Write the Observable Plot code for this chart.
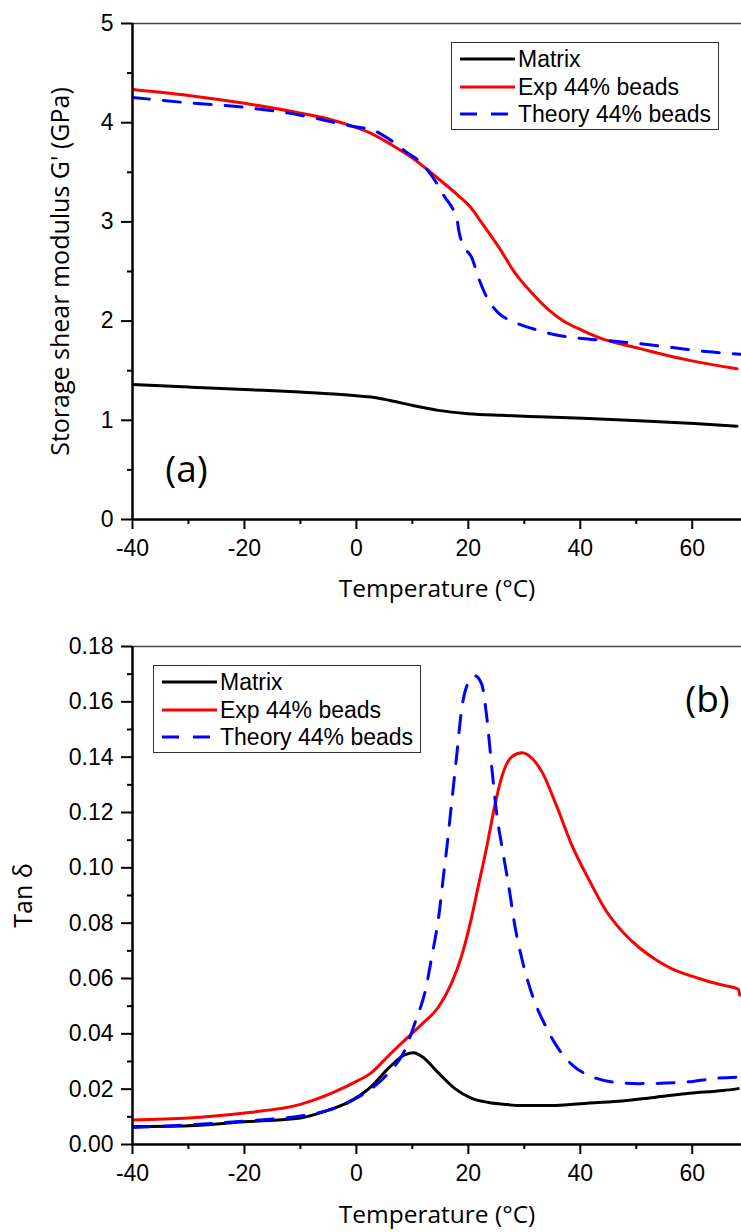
<!DOCTYPE html>
<html><head><meta charset="utf-8">
<script src="https://cdn.jsdelivr.net/npm/d3@7"></script>
<script src="https://cdn.jsdelivr.net/npm/@observablehq/plot@0.6"></script>
<style>
html,body{margin:0;padding:0;background:#fff;}
#wrap{position:relative;width:741px;height:1232px;overflow:hidden;background:#fff;}
.panel{position:absolute;left:0;}
.legend{position:absolute;background:#fff;border:1.5px solid #333;box-sizing:border-box;font-family:"Liberation Sans",Arial,sans-serif;font-size:23px;color:#000;}
.legend .row{position:absolute;left:0;height:28px;line-height:28px;white-space:nowrap;}
.legend svg{position:absolute;top:9px;}
.legend span{position:absolute;}
</style></head><body><div id="wrap"></div>
<script>
// ---------- data ----------
const seriesNames = ["Matrix", "Exp 44% beads", "Theory 44% beads"];
const seriesColors = ["#000000", "#ff0000", "#0000ff"];
const seriesDash = [null, null, "17,14"];

const xDomain = [-40, 68.8];
const xMajor = [-40, -20, 0, 20, 40, 60];
const xMinor = [-30, -10, 10, 30, 50];
const xTitle = "Temperature (°C)";

// Panel (a): storage shear modulus G' (GPa)
const yTitleA = "Storage shear modulus G' (GPa)";
const yDomainA = [0, 5];
const yMajorA = [0, 1, 2, 3, 4, 5];
const yMinorA = [0.5, 1.5, 2.5, 3.5, 4.5];

const aMatrixT = [-40, -30, -20, -10, -4, 0, 2.7, 6, 10.2, 14.6, 20, 26, 32.6, 40.3, 50.5, 60.4, 68];
const aMatrixG = [1.36, 1.335, 1.31, 1.285, 1.265, 1.247, 1.235, 1.2, 1.147, 1.10, 1.067, 1.05, 1.036, 1.02, 0.996, 0.968, 0.94];

const aExpT = [-40, -30, -20, -10, -4.5, 0, 2.7, 6.3, 10.2, 14.1, 18.3, 20.5, 22.4, 25.5, 28.4, 31.4, 34.4, 37, 40.4, 44.5, 50.5, 56.5, 60.4, 68];
const aExpG = [4.335, 4.275, 4.195, 4.096, 4.03, 3.95, 3.89, 3.777, 3.637, 3.46, 3.26, 3.14, 2.99, 2.74, 2.48, 2.28, 2.11, 2.0, 1.905, 1.81, 1.725, 1.64, 1.594, 1.52];

const aTheoryT = [-40, -30, -20, -10, 0, 2.7, 6.3, 9, 11.7, 14, 15.8, 17.4, 18.0, 18.3, 19.4, 20.6, 21.8, 23.3, 25.4, 27.8, 31.4, 36.2, 40.3, 44.5, 50.5, 56.5, 62.5, 68.8];
const aTheoryG = [4.255, 4.20, 4.155, 4.076, 3.956, 3.93, 3.817, 3.70, 3.59, 3.42, 3.25, 3.11, 3.02, 2.91, 2.74, 2.64, 2.44, 2.24, 2.08, 2.0, 1.925, 1.855, 1.825, 1.805, 1.773, 1.733, 1.693, 1.665];

// Panel (b): tan delta
const yTitleB = "Tan δ";
const yDomainB = [0, 0.18];
const yMajorB = [0, 0.02, 0.04, 0.06, 0.08, 0.10, 0.12, 0.14, 0.16, 0.18];
const yMinorB = [0.01, 0.03, 0.05, 0.07, 0.09, 0.11, 0.13, 0.15, 0.17];

const bMatrixT = [-40, -30, -20, -10, -5, -1.5, 2.7, 5.7, 8.7, 10.2, 11.7, 14.7, 17.6, 20.6, 23.6, 26.6, 29.6, 35.6, 41.6, 47.5, 53.5, 59.5, 65.5, 68.2];
const bMatrixV = [0.0065, 0.0068, 0.0082, 0.0096, 0.0124, 0.0152, 0.021, 0.0275, 0.0325, 0.0332, 0.0318, 0.0258, 0.0202, 0.0167, 0.0152, 0.0145, 0.0141, 0.0141, 0.015, 0.0157, 0.0171, 0.0185, 0.0195, 0.0202];

const bExpT = [-40, -30, -20, -10, -3.9, 0, 2.7, 5.7, 8.7, 11.7, 14.7, 17.0, 18.8, 20.6, 21.8, 23.3, 24.8, 26.0, 27.8, 29.6, 31.4, 33.2, 35.6, 38.6, 41.6, 44.6, 47.5, 50.5, 53.5, 56.5, 59.5, 62.5, 65.5, 68.2, 68.5];
const bExpV = [0.0089, 0.0096, 0.0114, 0.0145, 0.019, 0.0228, 0.026, 0.032, 0.0378, 0.0435, 0.0498, 0.0583, 0.0682, 0.0823, 0.0936, 0.1077, 0.1232, 0.1331, 0.1402, 0.1416, 0.1395, 0.1345, 0.1232, 0.1077, 0.0955, 0.0845, 0.077, 0.0712, 0.0668, 0.0634, 0.0611, 0.0592, 0.0576, 0.0562, 0.054];

const bTheoryT = [-40, -30, -20, -10, -5, 0, 2.7, 5.7, 8.7, 10.5, 12.3, 13.5, 14.7, 15.6, 16.1, 17.0, 17.9, 18.8, 20.0, 21.2, 22.4, 23.3, 24.2, 25.1, 26.0, 27.2, 28.4, 29.6, 31.4, 33.8, 36.2, 38.6, 42.2, 45.7, 50.5, 55.3, 60.1, 63.7, 68.8];
const bTheoryV = [0.0061, 0.0071, 0.0085, 0.0103, 0.0124, 0.0167, 0.0202, 0.0258, 0.0343, 0.0442, 0.0555, 0.0682, 0.0823, 0.0978, 0.1063, 0.1232, 0.1402, 0.1572, 0.167, 0.1694, 0.1663, 0.1543, 0.136, 0.119, 0.1077, 0.0936, 0.0781, 0.0668, 0.0541, 0.0428, 0.0343, 0.0287, 0.0244, 0.0226, 0.022, 0.0222, 0.0228, 0.0238, 0.0244];

// ---------- helpers ----------
const zip = (T, V) => T.map((t, i) => ({T: t, v: V[i]}));
const fontTick = '"Liberation Sans", Arial, sans-serif';
const fontTitle = '"Open Sans", sans-serif';

function panel(cfg) {
  const lines = cfg.series.map((d, i) => Plot.line(d, {
    x: "T", y: "v", stroke: seriesColors[i], strokeWidth: 3, curve: "monotone-x",
    strokeDasharray: seriesDash[i] || undefined, clip: true
  }));
  return Plot.plot({
    width: 741, height: cfg.height,
    marginTop: cfg.mt, marginBottom: cfg.mb, marginLeft: 132, marginRight: 0,
    style: {fontFamily: fontTick, fontSize: "23px", color: "black", background: "white", overflow: "visible"},
    x: {domain: xDomain},
    y: {domain: cfg.yDomain},
    marks: [
      Plot.ruleY([cfg.yDomain[1]], {stroke: "#444", strokeWidth: 1.5}),
      ...lines,
      Plot.axisX({ticks: xMajor, tickSize: 10, tickPadding: 10, strokeWidth: 2, fontSize: 23, label: null, tickFormat: d => String(d)}),
      Plot.axisX({ticks: xMinor, tickSize: 5, strokeWidth: 2, label: null, tickFormat: () => ""}),
      Plot.axisY({ticks: cfg.yMajor, tickSize: 11, tickPadding: 8, strokeWidth: 2, fontSize: 23, label: null, tickFormat: cfg.yFmt}),
      Plot.axisY({ticks: cfg.yMinor, tickSize: 5, strokeWidth: 2, label: null, tickFormat: () => ""}),
      Plot.ruleX([xDomain[0]], {strokeWidth: 2.5}),
      Plot.ruleY([cfg.yDomain[0]], {strokeWidth: 2.5}),
      Plot.text([xTitle], {text: d => d, frameAnchor: "bottom", dy: cfg.xTitleDy, lineAnchor: "middle", textAnchor: "middle", fontFamily: fontTitle, fontSize: 24.5}),
      Plot.text([cfg.yTitle], {text: d => d, frameAnchor: "left", dx: cfg.yTitleDx, rotate: -90, lineAnchor: "middle", textAnchor: "middle", fontFamily: fontTitle, fontSize: 25}),
      Plot.text([cfg.tag], {text: d => d, frameAnchor: cfg.tagAnchor, dx: cfg.tagDx, dy: cfg.tagDy, lineAnchor: "middle", textAnchor: "middle", fontFamily: fontTitle, fontSize: 37})
    ]
  });
}

function legend(left, top) {
  const box = document.createElement("div");
  box.className = "legend";
  Object.assign(box.style, {left: left + "px", top: top + "px", width: "268px", height: "88px"});
  const rowCenters = [16, 43.5, 71];
  seriesNames.forEach((name, i) => {
    const row = document.createElement("div");
    row.className = "row";
    row.style.top = (rowCenters[i] - 14) + "px";
    row.style.width = "100%";
    row.innerHTML = `<svg width="56" height="10" style="left:8px"><line x1="0" x2="55" y1="5" y2="5" stroke="${seriesColors[i]}" stroke-width="3" ${seriesDash[i] ? `stroke-dasharray="${seriesDash[i]}"` : ""}/></svg><span style="left:66px">${name}</span>`;
    box.appendChild(row);
  });
  return box;
}

// ---------- build ----------
const wrap = document.getElementById("wrap");

const pa = panel({
  series: [zip(aMatrixT, aMatrixG), zip(aExpT, aExpG), zip(aTheoryT, aTheoryG)],
  height: 615, mt: 23, mb: 96,
  yDomain: yDomainA, yMajor: yMajorA, yMinor: yMinorA, yFmt: d => String(d),
  yTitle: yTitleA, yTitleDx: -72, xTitleDy: 70,
  tag: "(a)", tagAnchor: "bottom-left", tagDx: 54, tagDy: -49
});
pa.classList.add("panel"); pa.style.top = "0px";
wrap.appendChild(pa);

const pb = panel({
  series: [zip(bMatrixT, bMatrixV), zip(bExpT, bExpV), zip(bTheoryT, bTheoryV)],
  height: 617, mt: 31, mb: 88,
  yDomain: yDomainB, yMajor: yMajorB, yMinor: yMinorB, yFmt: d3.format(".2f"),
  yTitle: yTitleB, yTitleDx: -109, xTitleDy: 71,
  tag: "(b)", tagAnchor: "top-right", tagDx: -34, tagDy: 54
});
pb.classList.add("panel"); pb.style.top = "615px";
wrap.appendChild(pb);

wrap.appendChild(legend(451, 42));
wrap.appendChild(legend(153, 665));
</script>
</body></html>
